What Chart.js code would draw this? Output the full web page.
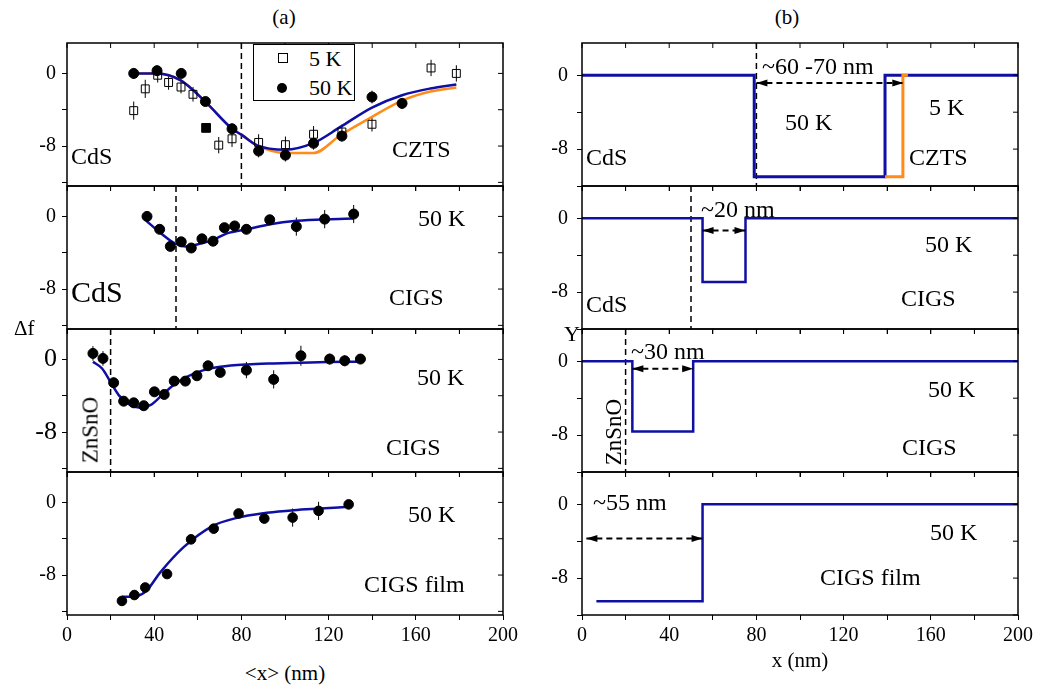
<!DOCTYPE html>
<html>
<head>
<meta charset="utf-8">
<script src="https://cdn.jsdelivr.net/npm/chart.js@4.4.1/dist/chart.umd.min.js"></script>
<style>
  body { margin: 0; width: 1040px; height: 690px; position: relative; overflow: hidden; background: #fff;
         font-family: "Liberation Serif", "DejaVu Serif", serif; color: #000; }
  canvas { position: absolute; }
  .yazi { position: absolute; white-space: nowrap; line-height: 1; font-size: 24px; transform: translateY(-50%); z-index: 5; }
  .orta { transform: translate(-50%, -50%); }
  .dik { transform: translate(-50%, -50%) rotate(-90deg); }
  .lejant { position: absolute; border: 1px solid #000; background: #fff; z-index: 5; }
  .kare { position: absolute; width: 8px; height: 8px; border: 1px solid #000; background: #fff; }
  .daire { position: absolute; width: 10px; height: 10px; border-radius: 50%; background: #000; }
</style>
</head>
<body>

<!-- başlıklar ve eksen adları -->
<div class="yazi orta" style="left:284px;top:17px;font-size:21px">(a)</div>
<div class="yazi orta" style="left:787px;top:17px;font-size:21px">(b)</div>
<div class="yazi orta" style="left:285px;top:673px;font-size:21px">&lt;x&gt; (nm)</div>
<div class="yazi orta" style="left:800px;top:660px;font-size:21px">x (nm)</div>
<div class="yazi" style="left:14px;top:328px;font-size:21px">Δf</div>
<div class="yazi" style="left:564px;top:334px;font-size:22px">Y</div>

<!-- (a) panel yazıları -->
<div class="lejant" style="left:253px;top:44px;width:100px;height:55px">
  <span class="kare" style="left:24px;top:8px"></span>
  <span class="yazi" style="left:55px;top:14px;font-size:22px">5 K</span>
  <span class="daire" style="left:23px;top:38px"></span>
  <span class="yazi" style="left:55px;top:43px;font-size:22px">50 K</span>
</div>
<div class="yazi" style="left:71px;top:156px">CdS</div>
<div class="yazi" style="left:392px;top:149px">CZTS</div>
<div class="yazi" style="left:418px;top:218px">50 K</div>
<div class="yazi" style="left:71px;top:292px;font-size:30px">CdS</div>
<div class="yazi" style="left:389px;top:297px">CIGS</div>
<div class="yazi" style="left:417px;top:377px">50 K</div>
<div class="yazi" style="left:386px;top:447px">CIGS</div>
<div class="yazi dik" style="left:90px;top:430px;font-size:23px">ZnSnO</div>
<div class="yazi" style="left:408px;top:514px">50 K</div>
<div class="yazi" style="left:364px;top:584px">CIGS film</div>

<!-- (b) panel yazıları -->
<div class="yazi" style="left:762px;top:66px">~60 -70 nm</div>
<div class="yazi" style="left:785px;top:122px">50 K</div>
<div class="yazi" style="left:929px;top:107px">5 K</div>
<div class="yazi" style="left:586px;top:157px">CdS</div>
<div class="yazi" style="left:909px;top:157px">CZTS</div>
<div class="yazi" style="left:701px;top:209px">~20 nm</div>
<div class="yazi" style="left:925px;top:244px">50 K</div>
<div class="yazi" style="left:586px;top:304px">CdS</div>
<div class="yazi" style="left:901px;top:298px">CIGS</div>
<div class="yazi" style="left:631px;top:351px">~30 nm</div>
<div class="yazi" style="left:928px;top:389px">50 K</div>
<div class="yazi" style="left:902px;top:447px">CIGS</div>
<div class="yazi dik" style="left:613px;top:432px;font-size:23px">ZnSnO</div>
<div class="yazi" style="left:593px;top:502px">~55 nm</div>
<div class="yazi" style="left:930px;top:532px">50 K</div>
<div class="yazi" style="left:820px;top:577px">CIGS film</div>

<script>
// ============================================
// VERİ
// ============================================

// (a) satır 1: CdS / CZTS, 5 K ve 50 K
const a1x5K  = [30.6, 35.9, 41.6, 46.6, 52.3, 57.8, 69.6, 75.7, 87.9, 100.2, 113.1, 126.1, 139.9, 167.0, 178.6];
const a1y5K  = [-4.1, -1.7, -0.2, -1.0, -1.5, -2.3, -7.9, -7.2, -7.6, -7.85, -6.7, -6.45, -5.6, 0.6, 0.0];
const a1e5K  = [1.0, 1.0, 0.8, 0.8, 0.7, 0.8, 0.9, 0.9, 0.9, 0.9, 0.9, 0.8, 0.8, 0.9, 0.9];
const a1xDolu = [63.8];   // siyah dolu kare (üst üste binen nokta)
const a1yDolu = [-6.0];
const a1x50K = [30.6, 41.3, 52.4, 63.5, 75.7, 87.9, 100.2, 113.1, 126.1, 139.9, 153.7];
const a1y50K = [0.0, 0.3, 0.0, -3.1, -6.1, -8.55, -9.0, -7.7, -6.9, -2.6, -3.3];
const a1e50K = [0.6, 0.6, 0.5, 0.5, 0.6, 0.7, 0.7, 0.7, 0.6, 0.7, 0.6];
const a1FitX50 = [30.6, 41.3, 52.0, 63.5, 75.7, 80.3, 87.2, 100.2, 113.1, 125.4, 139.9, 153.7, 166.7, 178.6];
const a1FitY50 = [0.0, 0.0, -0.74, -3.13, -6.08, -6.8, -7.92, -8.4, -7.66, -5.89, -3.76, -2.4, -1.66, -1.22];
const a1FitX5  = [30.6, 41.3, 52.0, 63.5, 75.7, 80.3, 87.2, 100.2, 113.1, 125.4, 139.9, 153.7, 166.7, 178.6];
const a1FitY5  = [0.0, 0.0, -0.74, -3.13, -6.08, -6.8, -7.92, -8.77, -8.77, -6.81, -4.79, -3.0, -2.0, -1.55];
const a1Arayuz = 80;

// (a) satır 2: CdS / CIGS, 50 K
const a2x = [36.7, 42.5, 47.4, 52.4, 57.0, 61.9, 67.0, 72.2, 76.9, 82.3, 93.0, 105.2, 118.2, 131.5];
const a2y = [0.0, -1.42, -3.3, -2.8, -3.48, -2.47, -2.73, -1.24, -1.05, -1.42, -0.37, -1.12, -0.3, 0.26];
const a2e = [0.4, 0.5, 0.5, 0.5, 0.5, 0.5, 0.5, 0.5, 0.5, 0.5, 0.5, 1.0, 1.0, 1.0];
const a2FitX = [36.4, 42.8, 49.7, 54.3, 59.6, 67.3, 73.4, 82.6, 93.3, 105.5, 119.3, 131.5];
const a2FitY = [-0.49, -1.8, -3.0, -3.3, -3.1, -2.55, -1.87, -1.42, -0.86, -0.49, -0.3, -0.22];
const a2Arayuz = 50;

// (a) satır 3: ZnSnO / CIGS, 50 K
const a3x = [11.9, 16.5, 21.4, 26.0, 30.6, 35.2, 40.1, 44.6, 49.2, 54.3, 59.6, 64.7, 70.3, 82.3, 94.8, 107.3, 120.5, 127.4, 134.6];
const a3y = [0.66, 0.11, -2.57, -4.6, -4.78, -5.1, -3.57, -3.86, -2.39, -2.39, -1.8, -0.7, -1.43, -1.18, -2.2, 0.4, 0.04, -0.15, 0.04];
const a3e = [0.8, 0.8, 0.6, 0.5, 0.5, 0.5, 0.5, 0.5, 0.5, 0.5, 0.5, 0.5, 0.5, 0.9, 1.0, 1.1, 0.6, 0.6, 0.5];
const a3FitX = [11.9, 16.1, 19.9, 23.7, 29.1, 33.6, 38.2, 42.8, 48.9, 55.0, 62.7, 70.3, 82.6, 94.8, 107.0, 119.3, 134.6];
const a3FitY = [-0.26, -1.0, -2.46, -3.93, -5.04, -5.33, -5.04, -4.12, -2.83, -1.91, -1.18, -0.81, -0.55, -0.44, -0.37, -0.29, -0.26];
const a3Arayuz = 20;

// (a) satır 4: CIGS film, 50 K
const a4x = [25.2, 30.9, 35.9, 45.9, 56.9, 67.3, 78.7, 90.5, 103.5, 115.4, 129.2];
const a4y = [-10.85, -10.2, -9.37, -7.89, -4.07, -2.89, -1.22, -1.78, -1.67, -0.93, -0.22];
const a4e = [0.5, 0.5, 0.5, 0.5, 0.5, 0.5, 0.5, 0.5, 1.0, 1.0, 0.5];
const a4FitX = [25.2, 32.1, 36.4, 42.8, 53.5, 66.5, 78.0, 91.7, 104.0, 116.2, 129.2];
const a4FitY = [-10.4, -10.3, -9.74, -7.7, -4.93, -2.63, -1.7, -1.15, -0.85, -0.67, -0.48];

// (b) basamak profilleri
const b1x50 = [0, 79, 79, 139, 139, 200];
const b1y50 = [0, 0, -11, -11, 0, 0];
const b1x5  = [139, 147.2, 147.2, 149.5];
const b1y5  = [-11, -11, 0, 0];
const b1Arayuz = 80;
const b1OkX = [80, 147.4], b1OkY = -0.84;

const b2x = [0, 55.3, 55.3, 75, 75, 200];
const b2y = [0, 0, -6.9, -6.9, 0, 0];
const b2Arayuz = 50;
const b2OkX = [55.3, 75], b2OkY = -1.33;

const b3x = [0, 23.1, 23.1, 51, 51, 200];
const b3y = [0, 0, -7.6, -7.6, 0, 0];
const b3Arayuz = 20;
const b3OkX = [23.1, 51], b3OkY = -0.8;

const b4x = [6.6, 55.3, 55.3, 200];
const b4y = [-10.5, -10.5, 0, 0];
const b4OkX = [2, 55.3], b4OkY = -3.7;

// eksen aralıkları
const A_Y = { min: -12.4, max: 3.35 };
const B_Y = { min: -12.0, max: 3.5 };
const X_ARALIK = { min: 0, max: 200 };

// ============================================
// YERLEŞİM
// ============================================
const SERIF = '"Liberation Serif", "DejaVu Serif", serif';
const MAVI = '#0f0fa3';
const TURUNCU = '#ff8c1a';
const SOL_A = 67, SOL_B = 582, GEN = 436, YUK = 143;
const SATIR_UST = [43, 186, 329, 472];
const EKSEN_W = 62, EKSEN_H = 40, PAD_T = 10, PAD_R = 24;

const nokta = (xs, ys) => xs.map((x, i) => ({ x, y: ys[i] }));

function cizgi(xs, ys, renk, kalinlik, sira, yumusak) {
  return {
    data: nokta(xs, ys), showLine: true, borderColor: renk, borderWidth: kalinlik,
    pointRadius: 0, order: sira,
    cubicInterpolationMode: yumusak ? 'monotone' : 'default', tension: 0,
  };
}

function isaret(xs, ys, stil, r, dolgu, sira) {
  return {
    data: nokta(xs, ys), showLine: false, pointStyle: stil, pointRadius: r,
    pointBackgroundColor: dolgu, pointBorderColor: '#000', pointBorderWidth: 1, order: sira,
  };
}

function hata(xs, ys, es) {
  const veri = xs.flatMap((x, i) => [{ x, y: ys[i] - es[i] }, { x, y: ys[i] + es[i] }, { x, y: null }]);
  return { data: veri, showLine: true, spanGaps: false, borderColor: '#000', borderWidth: 1, pointRadius: 0, order: 5 };
}

function kesikDikey(x, aralik) {
  return {
    data: [{ x, y: aralik.max }, { x, y: aralik.min }], showLine: true, borderColor: '#000',
    borderWidth: 1.5, borderDash: [6, 4], pointRadius: 0, order: 6,
  };
}

function ok(xs, y) {
  return {
    data: [{ x: xs[0], y }, { x: xs[1], y }], showLine: true, borderColor: '#000',
    borderWidth: 2, borderDash: [6, 4], pointRadius: 0, order: 0, okUc: true,
  };
}

// çerçeve, üst/sağ iç tikler ve ok uçları
const cerceve = {
  id: 'cerceve',
  afterDatasetsDraw(chart) {
    const ctx = chart.ctx;
    chart.data.datasets.forEach((ds, i) => {
      if (!ds.okUc) return;
      const pts = chart.getDatasetMeta(i).data;
      const uc = (p, yon) => {
        ctx.beginPath();
        ctx.moveTo(p.x, p.y);
        ctx.lineTo(p.x - yon * 11, p.y - 3.5);
        ctx.lineTo(p.x - yon * 11, p.y + 3.5);
        ctx.closePath();
        ctx.fill();
      };
      ctx.save();
      ctx.fillStyle = '#000';
      uc(pts[0], -1);
      uc(pts[pts.length - 1], 1);
      ctx.restore();
    });
  },
  afterDraw(chart) {
    const { ctx, chartArea: a, scales: { x, y } } = chart;
    ctx.save();
    ctx.strokeStyle = '#000';
    ctx.lineWidth = 1;
    ctx.beginPath();
    x.ticks.forEach(t => { const px = x.getPixelForValue(t.value); ctx.moveTo(px, a.top); ctx.lineTo(px, a.top + 5); });
    y.ticks.forEach(t => { const py = y.getPixelForValue(t.value); ctx.moveTo(a.right, py); ctx.lineTo(a.right - 5, py); });
    ctx.stroke();
    ctx.lineWidth = 1.5;
    ctx.strokeRect(a.left, a.top, a.width, a.height);
    ctx.restore();
  }
};

function panelKur(sol, ust, yAralik, datasets, ayar) {
  const tuval = document.createElement('canvas');
  const w = EKSEN_W + GEN + PAD_R, h = PAD_T + YUK + EKSEN_H;
  tuval.width = w; tuval.height = h;
  tuval.style.cssText = `left:${sol - EKSEN_W}px;top:${ust - PAD_T}px;width:${w}px;height:${h}px`;
  document.body.appendChild(tuval);

  const izgara = { drawOnChartArea: false, drawTicks: true, tickLength: 5, color: '#000', lineWidth: 1 };
  // eksenlerin etiket payı chartArea'yı kaydırmasın
  const payiSifirla = s => { s.paddingTop = 0; s.paddingBottom = 0; s.paddingLeft = 0; s.paddingRight = 0; };
  new Chart(tuval, {
    type: 'scatter',
    data: { datasets },
    options: {
      responsive: false, animation: false, devicePixelRatio: 1,
      layout: { padding: { top: PAD_T, right: PAD_R, left: 0, bottom: 0 } },
      plugins: { legend: { display: false }, tooltip: { enabled: false } },
      scales: {
        x: {
          type: 'linear', min: X_ARALIK.min, max: X_ARALIK.max,
          grid: izgara, border: { display: false },
          ticks: {
            stepSize: 20, autoSkip: false, maxRotation: 0, padding: 4, color: '#000',
            font: { family: SERIF, size: 20 },
            callback: v => (ayar.altEtiket && v % 40 === 0) ? v : '',
          },
          afterFit: s => { s.height = EKSEN_H; payiSifirla(s); },
        },
        y: {
          type: 'linear', min: yAralik.min, max: yAralik.max,
          grid: izgara, border: { display: false },
          ticks: {
            stepSize: 4, includeBounds: false, padding: ayar.yPad, color: '#000',
            font: { family: SERIF, size: ayar.yFont },
            callback: v => (v === 0 || v === -8) ? v : '',
          },
          afterFit: s => { s.width = EKSEN_W; payiSifirla(s); },
        },
      },
    },
    plugins: [cerceve],
  });
}

// ============================================
// (a) SÜTUNU
// ============================================
panelKur(SOL_A, SATIR_UST[0], A_Y, [
  isaret(a1x50K, a1y50K, 'circle', 5, '#000', 0),
  isaret(a1x5K, a1y5K, 'rect', 5.6, 'rgba(0,0,0,0)', 1),
  isaret(a1xDolu, a1yDolu, 'rect', 6.2, '#000', 1),
  cizgi(a1FitX50, a1FitY50, MAVI, 2.5, 3, true),
  cizgi(a1FitX5, a1FitY5, TURUNCU, 2.5, 4, true),
  hata(a1x5K, a1y5K, a1e5K),
  hata(a1x50K, a1y50K, a1e50K),
  kesikDikey(a1Arayuz, A_Y),
], { altEtiket: false, yFont: 20, yPad: 6 });

panelKur(SOL_A, SATIR_UST[1], A_Y, [
  isaret(a2x, a2y, 'circle', 5, '#000', 0),
  cizgi(a2FitX, a2FitY, MAVI, 2.5, 3, true),
  hata(a2x, a2y, a2e),
  kesikDikey(a2Arayuz, A_Y),
], { altEtiket: false, yFont: 20, yPad: 6 });

panelKur(SOL_A, SATIR_UST[2], A_Y, [
  isaret(a3x, a3y, 'circle', 5, '#000', 0),
  cizgi(a3FitX, a3FitY, MAVI, 2.5, 3, true),
  hata(a3x, a3y, a3e),
  kesikDikey(a3Arayuz, A_Y),
], { altEtiket: false, yFont: 26, yPad: 5 });

panelKur(SOL_A, SATIR_UST[3], A_Y, [
  isaret(a4x, a4y, 'circle', 4.8, '#000', 0),
  cizgi(a4FitX, a4FitY, MAVI, 2.5, 3, true),
  hata(a4x, a4y, a4e),
], { altEtiket: true, yFont: 20, yPad: 6 });

// ============================================
// (b) SÜTUNU
// ============================================
panelKur(SOL_B, SATIR_UST[0], B_Y, [
  cizgi(b1x5, b1y5, TURUNCU, 3, 2, false),
  cizgi(b1x50, b1y50, MAVI, 3, 3, false),
  ok(b1OkX, b1OkY),
  kesikDikey(b1Arayuz, B_Y),
], { altEtiket: false, yFont: 20, yPad: 9 });

panelKur(SOL_B, SATIR_UST[1], B_Y, [
  cizgi(b2x, b2y, MAVI, 2.5, 3, false),
  ok(b2OkX, b2OkY),
  kesikDikey(b2Arayuz, B_Y),
], { altEtiket: false, yFont: 20, yPad: 9 });

panelKur(SOL_B, SATIR_UST[2], B_Y, [
  cizgi(b3x, b3y, MAVI, 2.5, 3, false),
  ok(b3OkX, b3OkY),
  kesikDikey(b3Arayuz, B_Y),
], { altEtiket: false, yFont: 20, yPad: 9 });

panelKur(SOL_B, SATIR_UST[3], B_Y, [
  cizgi(b4x, b4y, MAVI, 2.5, 3, false),
  ok(b4OkX, b4OkY),
], { altEtiket: true, yFont: 20, yPad: 9 });
</script>
</body>
</html>
